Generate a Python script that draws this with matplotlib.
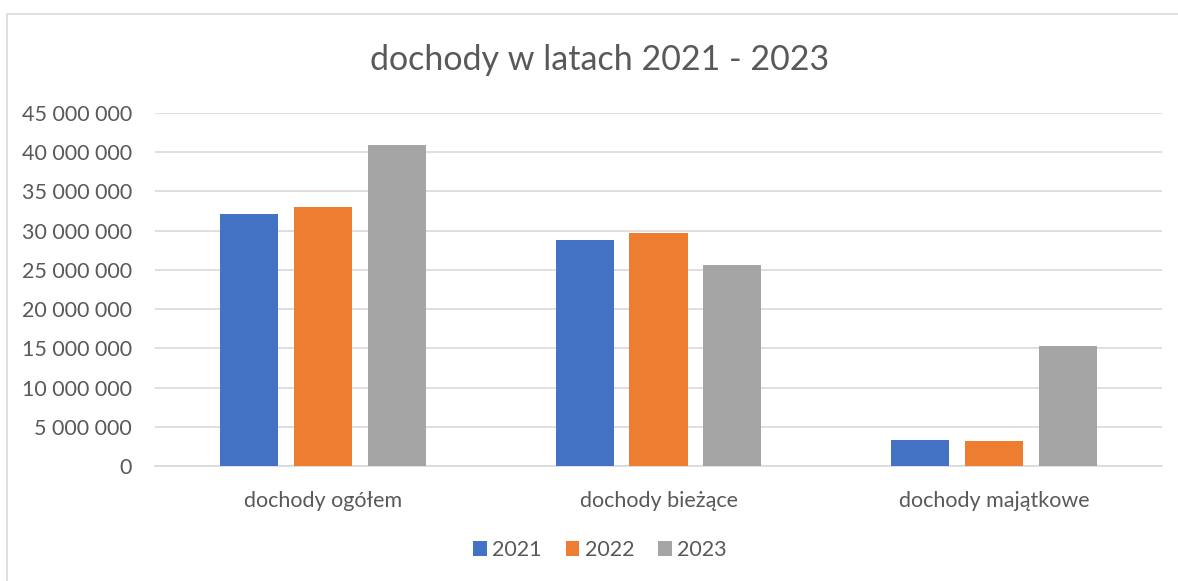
import matplotlib
matplotlib.use("Agg")
import matplotlib.pyplot as plt
import numpy as np
from matplotlib.patches import Rectangle
from matplotlib.ticker import FuncFormatter, MultipleLocator

categories = ["dochody ogółem", "dochody bieżące", "dochody majątkowe"]
years = ["2021", "2022", "2023"]
v2021 = [32150000, 28800000, 3300000]
v2022 = [33000000, 29750000, 3200000]
v2023 = [40900000, 25600000, 15250000]
colors = ["#4472C4", "#ED7D31", "#A5A5A5"]

plt.rcParams['font.family'] = ['Lato', 'DejaVu Sans']

W, H = 1178, 581
fig = plt.figure(figsize=(W/100, H/100), dpi=100)

# outer chart border
fig.patches.append(Rectangle((7/W, -0.2), 1.2, 1.2 - 14/H, transform=fig.transFigure,
                             fill=False, edgecolor="#D9D9D9", linewidth=1.2))

ax = fig.add_axes([155/W, 1 - 466/H, (1162-155)/W, (466-113)/H])

x = np.arange(len(categories))
bw = 0.173
step = 0.22
for i, (vals, yr) in enumerate(zip([v2021, v2022, v2023], years)):
    ax.bar(x + (i-1)*step, vals, width=bw, color=colors[i], label=yr, zorder=3)

ax.set_xlim(-0.5, 2.5)
ax.set_ylim(0, 45000000)
ax.yaxis.set_major_locator(MultipleLocator(5000000))
ax.yaxis.set_major_formatter(FuncFormatter(lambda v, p: f"{v:,.0f}".replace(",", " ")))
ax.grid(axis='y', color="#D9D9D9", linewidth=1.2, zorder=0)
for s in ["top", "right", "left"]:
    ax.spines[s].set_visible(False)
ax.spines["bottom"].set_color("#D9D9D9")
ax.spines["bottom"].set_linewidth(1.2)
ax.set_xticks(x)
ax.set_xticklabels(categories)
ax.tick_params(axis='both', length=0, labelsize=15.5, colors="#595959")
ax.tick_params(axis='x', pad=18)
ax.tick_params(axis='y', pad=16.5)

fig.text(600/W, 1 - 60/H, "dochody w latach 2021 - 2023", ha="center", va="center",
         fontsize=24.5, color="#595959")

leg = fig.legend(loc="center", bbox_to_anchor=(600/W, 1 - 550/H), ncol=3, frameon=False,
                 fontsize=15.5, handlelength=0.65, handleheight=0.65, handletextpad=0.25,
                 columnspacing=1.1, labelcolor="#595959")

fig.savefig("out.png", dpi=100)
